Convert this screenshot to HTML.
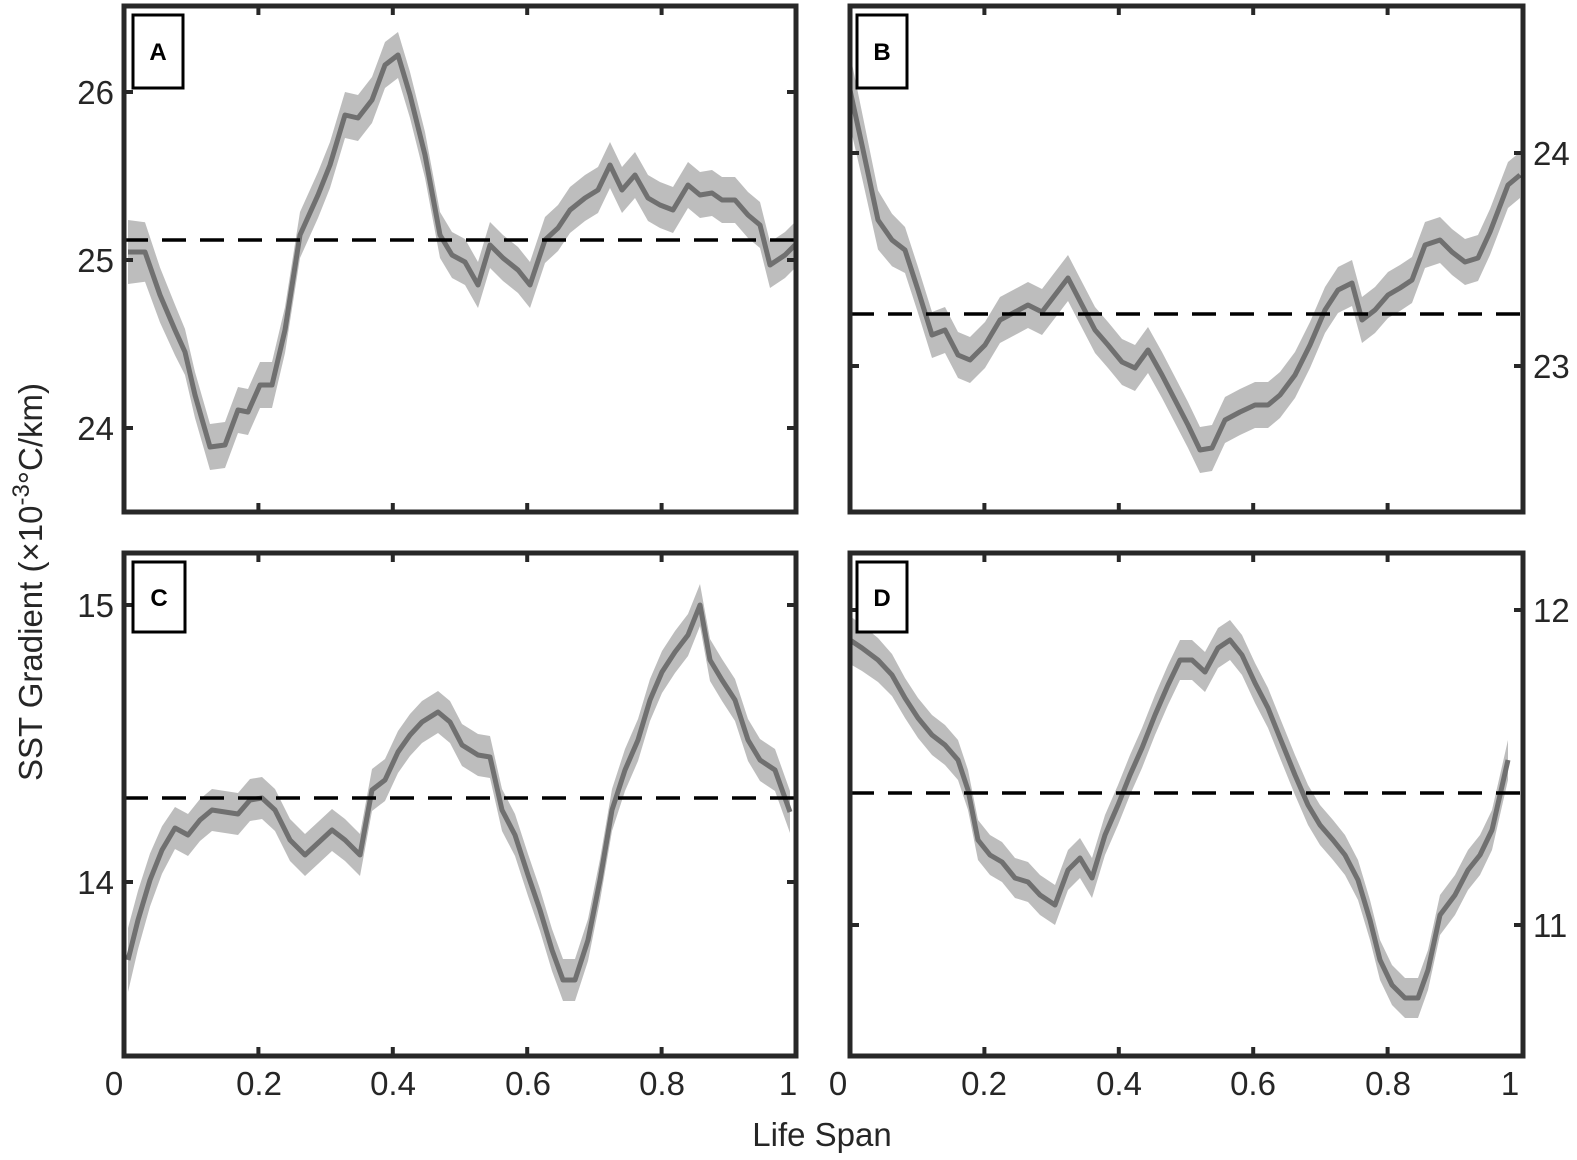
<!DOCTYPE html>
<html><head><meta charset="utf-8"><style>
html,body{margin:0;padding:0;background:#fff;}
svg{display:block;font-family:"Liberation Sans",sans-serif;}
</style></head><body>
<svg id="s" width="1577" height="1160" viewBox="0 0 1577 1160" xmlns="http://www.w3.org/2000/svg">
<g id="data"></g>
<g stroke="#000" stroke-width="3.5" stroke-dasharray="24,14">
<line x1="124" y1="240" x2="796" y2="240"/>
<line x1="850" y1="314" x2="1523" y2="314"/>
<line x1="124" y1="798" x2="796" y2="798"/>
<line x1="850" y1="793" x2="1523" y2="793"/>
</g>
<g fill="none" stroke="#282828" stroke-width="5">
<rect x="124" y="6" width="672" height="506"/>
<rect x="850" y="6" width="673" height="506"/>
<rect x="124" y="553" width="672" height="503"/>
<rect x="850" y="553" width="673" height="503"/>
</g>
<g id="ticks" stroke="#282828" stroke-width="4"></g>
<g fill="#fff" stroke="#000" stroke-width="3">
<rect x="133" y="15" width="50" height="73"/>
<rect x="857" y="15" width="50" height="73"/>
<rect x="133" y="562" width="52" height="70"/>
<rect x="857" y="562" width="50" height="70"/>
</g>
<g font-weight="bold" font-size="24" text-anchor="middle" fill="#000">
<text x="158" y="60">A</text><text x="882" y="60">B</text>
<text x="159" y="606">C</text><text x="882" y="606">D</text>
</g>
<g font-size="33" fill="#262626" text-anchor="end">
<text x="114" y="104">26</text><text x="114" y="272">25</text><text x="114" y="440">24</text>
<text x="114" y="617">15</text><text x="114" y="894">14</text>
</g>
<g font-size="33" fill="#262626" text-anchor="start">
<text x="1533" y="165">24</text><text x="1533" y="378">23</text>
<text x="1533" y="622">12</text><text x="1533" y="937">11</text>
</g>
<g font-size="33" fill="#262626" text-anchor="middle">
<text x="114" y="1095">0</text><text x="259" y="1095">0.2</text><text x="393" y="1095">0.4</text>
<text x="528" y="1095">0.6</text><text x="662" y="1095">0.8</text><text x="788" y="1095">1</text>
<text x="838" y="1095">0</text><text x="984" y="1095">0.2</text><text x="1119" y="1095">0.4</text>
<text x="1253" y="1095">0.6</text><text x="1388" y="1095">0.8</text><text x="1510" y="1095">1</text>
<text x="822" y="1146">Life Span</text>
<text transform="translate(42,582) rotate(-90)">SST Gradient (×10<tspan dy="-13" font-size="24">-3</tspan><tspan dy="13">°C/km)</tspan></text>
</g>
</svg>
<script>
var NS="http://www.w3.org/2000/svg";
function add(par,tag,attrs){var e=document.createElementNS(NS,tag);for(var k in attrs)e.setAttribute(k,attrs[k]);par.appendChild(e);return e;}
var A=[[128,252],[145,252],[160,295],[175,330],[185,352],[195,395],[210,447],[225,445],[238,410],[248,412],[260,385],[272,385],[285,330],[300,235],[318,195],[330,165],[345,115],[358,118],[372,100],[385,65],[398,55],[410,95],[425,155],[440,235],[452,255],[465,262],[478,285],[490,245],[503,258],[518,270],[530,285],[545,240],[558,228],[570,210],[585,198],[598,190],[610,165],[622,190],[635,175],[648,198],[660,205],[673,210],[688,185],[700,195],[712,193],[722,200],[735,200],[748,215],[760,225],[770,265],[785,255],[795,245]];
var B=[[850,90],[862,145],[878,220],[892,240],[905,250],[918,290],[932,335],[945,330],[958,355],[970,360],[985,345],[1000,320],[1015,312],[1028,305],[1042,312],[1055,295],[1068,278],[1082,305],[1095,330],[1108,345],[1122,362],[1135,368],[1148,350],[1162,375],[1175,400],[1188,425],[1200,450],[1212,448],[1225,420],[1240,412],[1255,405],[1268,405],[1280,395],[1295,375],[1310,345],[1325,310],[1338,290],[1352,283],[1362,320],[1375,310],[1388,295],[1400,288],[1412,280],[1425,245],[1440,240],[1452,252],[1465,262],[1478,258],[1490,232],[1508,185],[1520,175]];
var C=[[128,960],[138,920],[150,880],[162,850],[175,828],[188,835],[200,820],[212,810],[225,812],[238,814],[250,800],[262,798],[275,810],[290,840],[305,855],[318,843],[332,830],[345,840],[360,855],[372,790],[385,780],[398,752],[410,735],[422,722],[438,712],[450,722],[462,745],[478,755],[490,757],[502,810],[515,835],[528,875],[540,910],[552,950],[563,980],[575,980],[588,940],[600,880],[612,810],[625,770],[638,740],[650,700],[662,672],[675,652],[688,635],[700,605],[710,660],[722,680],[735,700],[748,740],[760,760],[775,770],[790,812]];
var D=[[850,640],[862,648],[878,660],[892,675],[905,698],[918,718],[932,735],[945,745],[958,760],[968,790],[978,840],[990,855],[1002,862],[1015,878],[1028,882],[1040,895],[1055,905],[1068,870],[1080,858],[1092,878],[1105,835],[1118,805],[1130,775],[1142,748],[1155,715],[1168,685],[1180,660],[1192,660],[1205,672],[1218,648],[1230,640],[1242,655],[1255,683],[1268,708],[1280,738],[1295,775],[1308,805],[1320,825],[1333,840],[1345,855],[1358,880],[1370,920],[1380,960],[1392,985],[1405,998],[1418,998],[1428,970],[1440,915],[1455,895],[1468,870],[1480,855],[1492,830],[1508,760]];
var g=document.getElementById("data");
function series(P,hw,hw0){
  var up=[],dn=[];
  for(var i=0;i<P.length;i++){var h=hw+(hw0-hw)*Math.max(0,1-i/4);up.push(P[i][0]+","+(P[i][1]-h));dn.unshift(P[i][0]+","+(P[i][1]+h));}
  add(g,"polygon",{points:up.concat(dn).join(" "),fill:"#bdbdbd"});
  add(g,"polyline",{points:P.map(function(p){return p.join(",")}).join(" "),fill:"none",stroke:"#707070","stroke-width":5,"stroke-linejoin":"round"});
}
series(A,23,32);series(B,23,36);series(C,21,32);series(D,20,24);
var t=document.getElementById("ticks");
[[124,6,512],[850,6,512],[124,553,1056],[850,553,1056]].forEach(function(p){
  for(var k=1;k<=4;k++){var x=p[0]+k*134.4;
    add(t,"line",{x1:x,y1:p[1],x2:x,y2:p[1]+9});add(t,"line",{x1:x,y1:p[2],x2:x,y2:p[2]-9});}
});
[92,260,428,605,882].forEach(function(y){add(t,"line",{x1:124,y1:y,x2:133,y2:y});add(t,"line",{x1:796,y1:y,x2:787,y2:y});});
[153,366,610,925].forEach(function(y){add(t,"line",{x1:1523,y1:y,x2:1514,y2:y});add(t,"line",{x1:850,y1:y,x2:859,y2:y});});
</script>
</body></html>
